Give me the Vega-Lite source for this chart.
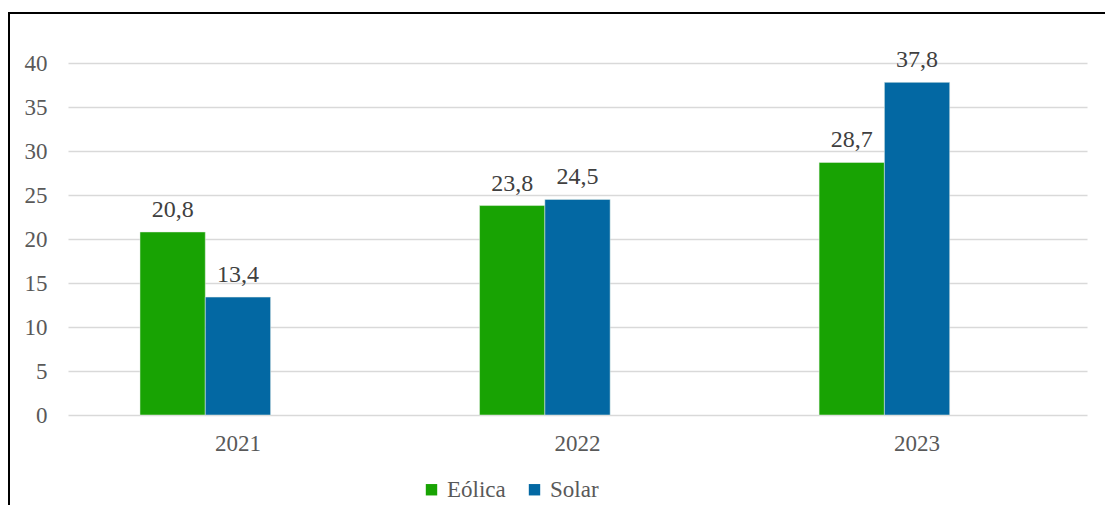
{
  "$schema": "https://vega.github.io/schema/vega-lite/v6.json",
  "width": 1100,
  "height": 500,
  "padding": {"left": 9, "top": 13, "right": 0, "bottom": 0},
  "autosize": {"type": "pad"},
  "background": "white",
  "config": {
    "view": {"stroke": "#000000", "strokeWidth": 2},
    "font": "Liberation Serif",
    "locale": {"number": {"decimal": ",", "thousands": ".", "grouping": [3], "currency": ["", " €"]}}
  },
  "data": {
    "values": [
      {"year": "2021", "series": "Eólica", "value": 20.8},
      {"year": "2021", "series": "Solar", "value": 13.4},
      {"year": "2022", "series": "Eólica", "value": 23.8},
      {"year": "2022", "series": "Solar", "value": 24.5},
      {"year": "2023", "series": "Eólica", "value": 28.7},
      {"year": "2023", "series": "Solar", "value": 37.8}
    ]
  },
  "encoding": {
    "x": {
      "field": "year",
      "type": "nominal",
      "title": null,
      "scale": {"range": [59, 1078], "paddingInner": 0.423, "paddingOuter": 0.212},
      "axis": {
        "orient": "bottom",
        "offset": -98,
        "domain": false,
        "ticks": false,
        "grid": false,
        "labelAngle": 0,
        "labelFont": "Liberation Serif",
        "labelFontSize": 23,
        "labelColor": "#595959",
        "labelPadding": 17,
        "labelBaseline": "top"
      }
    },
    "xOffset": {
      "field": "series",
      "type": "nominal",
      "scale": {"domain": ["Eólica", "Solar", "_"], "paddingInner": 0, "paddingOuter": 0}
    },
    "y": {
      "field": "value",
      "type": "quantitative",
      "title": null,
      "scale": {"domain": [0, 40], "range": [402, 50], "nice": false, "zero": true},
      "axis": {
        "orient": "left",
        "offset": -59,
        "values": [0, 5, 10, 15, 20, 25, 30, 35, 40],
        "domain": false,
        "ticks": false,
        "grid": true,
        "gridColor": "#d9d9d9",
        "gridWidth": 1.5,
        "labelFont": "Liberation Serif",
        "labelFontSize": 23,
        "labelColor": "#595959",
        "labelPadding": 21,
        "format": "d"
      }
    }
  },
  "layer": [
    {
      "mark": {"type": "bar", "stroke": "#e8f0e8", "strokeWidth": 0.5},
      "encoding": {
        "color": {
          "field": "series",
          "type": "nominal",
          "scale": {"domain": ["Eólica", "Solar"], "range": ["#18A303", "#0368A3"]},
          "legend": {
            "title": null,
            "orient": "none",
            "direction": "horizontal",
            "legendX": 411,
            "legendY": 465,
            "symbolType": "square",
            "symbolSize": 130,
            "symbolStrokeWidth": 0,
            "labelFont": "Liberation Serif",
            "labelFontSize": 23,
            "labelColor": "#595959",
            "labelOffset": 4,
            "columnPadding": 17,
            "padding": 0
          }
        }
      }
    },
    {
      "mark": {"type": "text", "baseline": "alphabetic", "dy": -15, "fontSize": 24, "font": "Liberation Serif", "color": "#404040"},
      "encoding": {
        "text": {"field": "value", "type": "quantitative", "format": ".1f"}
      }
    }
  ]
}
